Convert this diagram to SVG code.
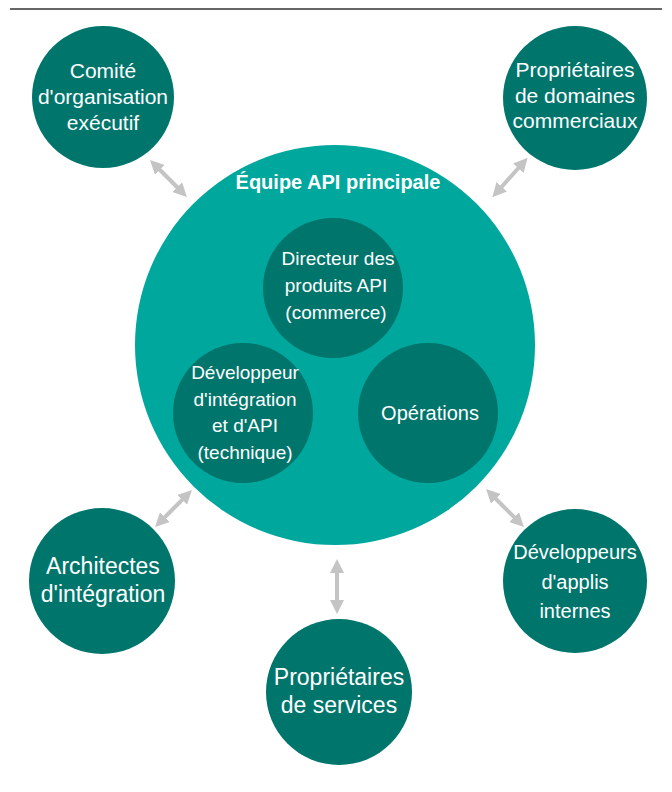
<svg xmlns="http://www.w3.org/2000/svg" width="672" height="792" viewBox="0 0 672 792">
  <style>
    .dark { fill: #00756c; }
    .core { fill: #00a79d; }
    .lbl { font-family: "Liberation Sans", Arial, Helvetica, sans-serif; fill: #ffffff; text-anchor: middle; }
    .title { font-weight: bold; font-size: 20px; }
    .link { stroke: #c4c4c4; stroke-width: 4; fill: none; marker-start: url(#head); marker-end: url(#head); }
  </style>
  <defs>
    <marker id="head" viewBox="0 0 14 14" refX="7" refY="7" markerWidth="14" markerHeight="14" markerUnits="userSpaceOnUse" orient="auto-start-reverse">
      <path d="M0,0 L14,7 L0,14 z" fill="#c4c4c4"/>
    </marker>
  </defs>

  <rect width="672" height="792" fill="#ffffff"/>
  <line x1="10" y1="9" x2="662" y2="9" stroke="#333333" stroke-width="1.5"/>

  <!-- central team -->
  <g id="core-team">
    <circle class="core" cx="335" cy="345" r="200"/>
    <text class="lbl title" x="338" y="189">Équipe API principale</text>
  </g>

  <g id="product-director">
    <circle class="dark" cx="333" cy="288" r="70"/>
    <text class="lbl" font-size="19" x="338" y="265">Directeur des</text>
    <text class="lbl" font-size="19" x="336" y="292">produits API</text>
    <text class="lbl" font-size="19" x="336" y="319">(commerce)</text>
  </g>

  <g id="integration-developer">
    <circle class="dark" cx="243" cy="413" r="70"/>
    <text class="lbl" font-size="19" x="245" y="379">Développeur</text>
    <text class="lbl" font-size="19" x="245" y="406">d'intégration</text>
    <text class="lbl" font-size="19" x="245" y="432">et d'API</text>
    <text class="lbl" font-size="19" x="245" y="459">(technique)</text>
  </g>

  <g id="operations">
    <circle class="dark" cx="428" cy="413" r="70"/>
    <text class="lbl" font-size="20" x="430" y="420">Opérations</text>
  </g>

  <!-- surrounding stakeholders -->
  <g id="steering-committee">
    <circle class="dark" cx="103" cy="97" r="71"/>
    <text class="lbl" font-size="21" x="103" y="78">Comité</text>
    <text class="lbl" font-size="21" x="103" y="104">d'organisation</text>
    <text class="lbl" font-size="21" x="103" y="130">exécutif</text>
  </g>

  <g id="domain-owners">
    <circle class="dark" cx="575" cy="98" r="72"/>
    <text class="lbl" font-size="21" x="575" y="77">Propriétaires</text>
    <text class="lbl" font-size="21" x="575" y="103">de domaines</text>
    <text class="lbl" font-size="21" x="575" y="128">commerciaux</text>
  </g>

  <g id="integration-architects">
    <circle class="dark" cx="102" cy="581" r="73"/>
    <text class="lbl" font-size="23" x="103" y="574">Architectes</text>
    <text class="lbl" font-size="23" x="103" y="602">d'intégration</text>
  </g>

  <g id="service-owners">
    <circle class="dark" cx="339" cy="692" r="73"/>
    <text class="lbl" font-size="23" x="339" y="685">Propriétaires</text>
    <text class="lbl" font-size="23" x="339" y="713">de services</text>
  </g>

  <g id="internal-app-developers">
    <circle class="dark" cx="575" cy="581" r="72"/>
    <text class="lbl" font-size="20" x="575" y="559">Développeurs</text>
    <text class="lbl" font-size="20" x="575" y="589">d'applis</text>
    <text class="lbl" font-size="20" x="575" y="618">internes</text>
  </g>

  <!-- two-way links -->
  <g id="connectors">
    <line class="link" x1="155" y1="165" x2="182" y2="192"/>
    <line class="link" x1="523" y1="163" x2="497" y2="192"/>
    <line class="link" x1="187" y1="495" x2="160" y2="522"/>
    <line class="link" x1="491" y1="494" x2="519" y2="522"/>
    <line class="link" x1="337" y1="566" x2="337" y2="607"/>
  </g>
</svg>
